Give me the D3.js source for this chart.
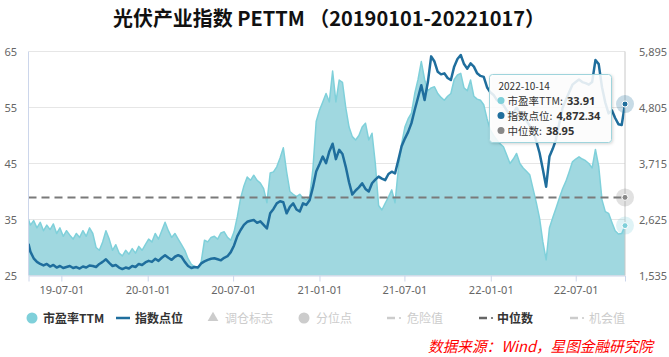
<!DOCTYPE html>
<html><head><meta charset="utf-8">
<script src="https://cdn.jsdelivr.net/npm/d3@7"></script>
<style>
body{margin:0;background:#fff;}
svg{display:block;font-family:"Noto Sans CJK SC","Noto Sans",sans-serif;}
</style>
</head><body>
<svg id="c" width="669" height="357"></svg>
<script>
const titleText = "光伏产业指数 PETTM （20190101-20221017）";
const sourceText = "数据来源：Wind，星图金融研究院";

const dates = [
"2019-04-22","2019-04-26","2019-05-03","2019-05-10","2019-05-17","2019-05-24","2019-05-31","2019-06-07","2019-06-14","2019-06-21","2019-06-28",
"2019-07-05","2019-07-12","2019-07-19","2019-07-26","2019-08-02","2019-08-09","2019-08-16","2019-08-23","2019-08-30",
"2019-09-06","2019-09-13","2019-09-20","2019-09-27","2019-10-04","2019-10-11","2019-10-18","2019-10-25",
"2019-11-01","2019-11-08","2019-11-15","2019-11-22","2019-11-29","2019-12-06","2019-12-13","2019-12-20","2019-12-27",
"2020-01-03","2020-01-10","2020-01-17","2020-01-24","2020-01-31","2020-02-07","2020-02-14","2020-02-21","2020-02-28",
"2020-03-06","2020-03-13","2020-03-20","2020-03-27","2020-04-03","2020-04-10","2020-04-17","2020-04-24",
"2020-05-01","2020-05-08","2020-05-15","2020-05-22","2020-05-29","2020-06-05","2020-06-12","2020-06-19","2020-06-26",
"2020-07-03","2020-07-10","2020-07-17","2020-07-24","2020-07-31","2020-08-07","2020-08-14","2020-08-21","2020-08-28",
"2020-09-04","2020-09-11","2020-09-18","2020-09-25","2020-10-02","2020-10-09","2020-10-16","2020-10-23","2020-10-30",
"2020-11-06","2020-11-13","2020-11-20","2020-11-27","2020-12-04","2020-12-11","2020-12-18","2020-12-25",
"2021-01-01","2021-01-08","2021-01-15","2021-01-22","2021-01-29","2021-02-05","2021-02-12","2021-02-19","2021-02-26",
"2021-03-05","2021-03-12","2021-03-19","2021-03-26","2021-04-02","2021-04-09","2021-04-16","2021-04-23","2021-04-30",
"2021-05-07","2021-05-14","2021-05-21","2021-05-28","2021-06-04","2021-06-11","2021-06-18","2021-06-25",
"2021-07-02","2021-07-09","2021-07-16","2021-07-23","2021-07-30","2021-08-06","2021-08-13","2021-08-20","2021-08-27",
"2021-09-03","2021-09-10","2021-09-17","2021-09-24","2021-10-01","2021-10-08","2021-10-15","2021-10-22","2021-10-29",
"2021-11-05","2021-11-12","2021-11-19","2021-11-26","2021-12-03","2021-12-10","2021-12-17","2021-12-24","2021-12-31",
"2022-01-07","2022-01-14","2022-01-21","2022-01-28","2022-02-04","2022-02-11","2022-02-18","2022-02-25",
"2022-03-04","2022-03-11","2022-03-18","2022-03-25","2022-04-01","2022-04-08","2022-04-15","2022-04-22","2022-04-29",
"2022-05-06","2022-05-13","2022-05-20","2022-05-27","2022-06-03","2022-06-10","2022-06-17","2022-06-24",
"2022-07-01","2022-07-08","2022-07-15","2022-07-22","2022-07-29","2022-08-05","2022-08-12","2022-08-19","2022-08-26",
"2022-09-02","2022-09-09","2022-09-16","2022-09-23","2022-09-30","2022-10-07","2022-10-14"
];

const peValues = [
35.0,
34.0,34.8,33.5,34.5,33.0,34.0,33.2,34.2,32.5,33.5,
32.0,33.0,32.2,31.5,32.5,31.8,33.0,32.0,33.5,32.5,
30.0,29.5,31.0,33.0,31.5,29.5,30.5,29.0,28.5,29.5,
28.8,29.8,29.0,30.2,29.5,30.5,31.5,31.0,32.5,31.5,
33.0,34.5,33.0,31.8,32.5,31.5,30.5,29.5,28.0,27.0,
26.6,26.2,27.5,31.3,31.0,31.8,32.0,31.5,32.6,32.8,
31.8,31.3,32.8,35.5,38.8,41.0,42.6,42.0,42.9,42.0,
41.5,40.5,38.0,43.3,43.5,44.4,46.0,47.8,43.5,40.0,
39.5,39.1,39.5,38.8,38.5,39.0,44.0,52.5,54.5,56.0,
57.5,56.0,61.5,56.0,59.9,59.5,55.0,51.5,49.8,49.2,
50.0,51.5,52.2,49.2,50.4,45.0,37.5,36.7,37.9,39.0,
40.3,38.0,44.0,48.5,51.5,53.0,54.0,57.5,60.0,63.2,
60.0,58.0,58.5,58.7,57.5,56.8,56.3,57.0,57.5,60.0,
60.8,61.1,58.5,58.0,59.9,57.0,56.5,56.3,55.5,53.0,
51.0,50.0,49.2,48.5,48.0,46.5,45.0,45.8,46.8,45.0,
44.2,43.6,43.0,40.5,38.0,35.2,31.0,27.8,33.5,35.3,
37.0,38.8,40.5,41.8,43.5,45.3,45.8,46.2,45.8,45.5,
45.0,44.2,47.5,44.5,38.5,36.4,36.1,34.5,33.0,32.4,
32.5,33.91
];

const indexValues = [
2150,
2000,1870,1800,1760,1730,1760,1710,1740,1690,1720,
1680,1700,1720,1680,1700,1670,1710,1690,1730,1720,
1700,1760,1800,1850,1780,1720,1740,1690,1660,1690,
1670,1720,1700,1760,1740,1790,1820,1800,1860,1820,
1880,1930,1880,1840,1900,1930,1900,1800,1720,1680,
1700,1690,1770,1810,1840,1860,1870,1850,1830,1880,
1910,1990,2120,2300,2420,2520,2580,2600,2615,2560,
2590,2520,2450,2745,2830,2940,2980,2960,2745,2870,
2940,2820,2780,2940,2910,3000,3250,3560,3700,3850,
3720,3950,4100,3800,3980,3900,3650,3350,3110,3190,
3250,3330,3220,3170,3330,3400,3460,3420,3390,3510,
3555,3520,3780,4050,4200,4330,4500,4760,5000,5240,
4950,5300,5800,5700,5500,5450,5470,5380,5340,5600,
5750,5826,5650,5560,5664,5600,5470,5420,5400,5200,
5100,5050,4950,4900,4850,4750,4650,4700,4800,4700,
4600,4550,4450,4350,4150,3920,3600,3263,3850,4000,
4180,4500,4800,4950,5100,5250,5300,5350,5300,5280,
5250,5300,5728,5650,5200,4900,4691,4750,4600,4480,
4464,4872.34
];

const medianValue = 38.95;
const peTicks = [25,35,45,55,65];
const indexTicks = [1535,2625,3715,4805,5895];
const xTickDates = ["2019-07-01","2020-01-01","2020-07-01","2021-01-01","2021-07-01","2022-01-01","2022-07-01"];
const xTickLabels = ["19-07-01","20-01-01","20-07-01","21-01-01","21-07-01","22-01-01","22-07-01"];
const legendItems = [
  {name:"市盈率TTM", type:"circle", active:true},
  {name:"指数点位", type:"line", active:true},
  {name:"调仓标志", type:"triangle", active:false},
  {name:"分位点", type:"circle", active:false},
  {name:"危险值", type:"dash", active:false},
  {name:"中位数", type:"dash", active:true},
  {name:"机会值", type:"dash", active:false}
];
const tooltipDate = "2022-10-14";

const C = {pe:"#7fd0da", peFill:"#a0d8e0", idx:"#1f6e9d", med:"#7a7a7a", grid:"#e6e6e6", axis:"#ccd6eb", label:"#666"};

const parse = d3.timeParse("%Y-%m-%d");
const data = dates.map((d,i)=>({date:parse(d), pe:peValues[i], idx:indexValues[i]}));

const L = 28.5, R = 625, T = 51.5, B = 275.5;
const x = d3.scaleTime().domain([data[0].date, data[data.length-1].date]).range([L,R]);
const yPE = d3.scaleLinear().domain([25,65]).range([B,T]);
const yIdx = d3.scaleLinear().domain([1535,5895]).range([B,T]);

const svg = d3.select("#c");

// title
svg.append("text").attr("x",329).attr("y",26).attr("text-anchor","middle")
  .attr("font-size",20).attr("font-weight","bold").attr("fill","#111")
  .attr("textLength",432).attr("lengthAdjust","spacingAndGlyphs").text(titleText);

// grid
svg.append("g").selectAll("line").data(peTicks).join("line")
  .attr("x1",L).attr("x2",R).attr("y1",d=>yPE(d)).attr("y2",d=>yPE(d))
  .attr("stroke",C.grid).attr("stroke-width",1);

// left axis labels
svg.append("g").selectAll("text").data(peTicks).join("text")
  .attr("x",17).attr("y",d=>yPE(d)+4).attr("text-anchor","end")
  .attr("font-size",11).attr("fill",C.label).attr("font-family","Noto Sans").text(d=>d);
// right axis labels
svg.append("g").selectAll("text").data(indexTicks).join("text")
  .attr("x",639).attr("y",d=>yIdx(d)+4).attr("text-anchor","start")
  .attr("font-size",11).attr("fill",C.label).attr("font-family","Noto Sans").text(d=>d3.format(",")(d));

// area & lines
svg.append("clipPath").attr("id","clp").append("rect").attr("x",L).attr("y",T-2).attr("width",R-L).attr("height",B-T+2);
const plot = svg.append("g").attr("clip-path","url(#clp)");
plot.append("path").datum(data).attr("fill",C.peFill)
  .attr("d",d3.area().x(d=>x(d.date)).y0(B).y1(d=>yPE(d.pe)));
plot.append("path").datum(data).attr("fill","none").attr("stroke",C.pe).attr("stroke-width",1.5)
  .attr("stroke-linejoin","round")
  .attr("d",d3.line().x(d=>x(d.date)).y(d=>yPE(d.pe)));
plot.append("path").datum(data).attr("fill","none").attr("stroke",C.idx).attr("stroke-width",2.5)
  .attr("stroke-linejoin","round")
  .attr("d",d3.line().x(d=>x(d.date)).y(d=>yIdx(d.idx)));

// median line
svg.append("line").attr("x1",L).attr("x2",R).attr("y1",yPE(medianValue)).attr("y2",yPE(medianValue))
  .attr("stroke",C.med).attr("stroke-width",2).attr("stroke-dasharray","8,5");

// axes lines
svg.append("line").attr("x1",L).attr("x2",L).attr("y1",T).attr("y2",B).attr("stroke",C.axis);
const xAxis = d3.axisBottom(x).tickValues(xTickDates.map(parse)).tickSize(6)
  .tickFormat((d,i)=>xTickLabels[i]);
const gx = svg.append("g").attr("transform",`translate(0,${B})`).call(xAxis);
gx.select(".domain").attr("stroke",C.axis);
gx.selectAll(".tick line").attr("stroke",C.axis);
gx.selectAll(".tick text").attr("fill",C.label).attr("font-size",11).attr("font-family","Noto Sans").attr("dy","0.9em");

// hover crosshair
const last = data[data.length-1];
svg.append("line").attr("x1",x(last.date)).attr("x2",x(last.date)).attr("y1",T).attr("y2",B)
  .attr("stroke","#c8c8c8").attr("stroke-width",1);

// end markers
function marker(cx,cy,col){
  svg.append("circle").attr("cx",cx).attr("cy",cy).attr("r",9).attr("fill",col).attr("opacity",0.25);
  svg.append("circle").attr("cx",cx).attr("cy",cy).attr("r",3).attr("fill",col).attr("stroke","#fff").attr("stroke-width",1);
}
marker(x(last.date), yPE(last.pe), C.pe);
marker(x(last.date), yIdx(last.idx), C.idx);
marker(x(last.date), yPE(medianValue), "#888");

// tooltip
const defs = svg.append("defs");
const f = defs.append("filter").attr("id","sh").attr("x","-20%").attr("y","-20%").attr("width","140%").attr("height","150%");
f.append("feDropShadow").attr("dx",1).attr("dy",1).attr("stdDeviation",1.5).attr("flood-color","#000").attr("flood-opacity",0.18);
const tt = svg.append("g").attr("transform","translate(489.5,74.5)");
tt.append("rect").attr("width",122).attr("height",68).attr("rx",3)
  .attr("fill","#fff").attr("fill-opacity",0.85).attr("stroke","#9fd4dc").attr("stroke-width",1).attr("filter","url(#sh)");
tt.append("text").attr("x",9).attr("y",15).attr("font-size",10).attr("fill","#333").text(tooltipDate);
const rows = [
  {c:C.pe, n:"市盈率TTM:", v:d3.format(".2f")(last.pe)},
  {c:C.idx, n:"指数点位:", v:d3.format(",.2f")(last.idx)},
  {c:"#888", n:"中位数:", v:d3.format(".2f")(medianValue)}
];
rows.forEach((r,i)=>{
  const yy = 30 + i*15;
  tt.append("circle").attr("cx",11.5).attr("cy",yy-4).attr("r",3.5).attr("fill",r.c);
  const t = tt.append("text").attr("x",18).attr("y",yy).attr("font-size",10.5).attr("fill","#333").text(r.n);
  const w = t.node().getComputedTextLength();
  tt.append("text").attr("x",18+w+4).attr("y",yy).attr("font-size",11).attr("font-weight","bold")
    .attr("fill","#333").attr("font-family","Noto Sans").text(r.v);
});

// legend
const legX = [32,116,213,304,387,479,570];
const legTextX = [43,135,225,316,407,497,589];
const legY = 318;
legendItems.forEach((it,i)=>{
  const g = svg.append("g");
  const col = it.active ? (i===0?C.pe:(i===1?C.idx:"#666")) : "#cccccc";
  if(it.type==="circle") g.append("circle").attr("cx",legX[i]).attr("cy",legY).attr("r",5.5).attr("fill",col);
  if(it.type==="line") g.append("line").attr("x1",legX[i]).attr("x2",legX[i]+14).attr("y1",legY).attr("y2",legY).attr("stroke",col).attr("stroke-width",2.5);
  if(it.type==="triangle") g.append("path").attr("d",d3.symbol(d3.symbolTriangle,50)()).attr("transform",`translate(${legX[i]},${legY})`).attr("fill",col);
  if(it.type==="dash"){
    g.append("line").attr("x1",legX[i]).attr("x2",legX[i]+8).attr("y1",legY).attr("y2",legY).attr("stroke",col).attr("stroke-width",2.5);
    g.append("circle").attr("cx",legX[i]+13).attr("cy",legY).attr("r",1.1).attr("fill",col);
  }
  g.append("text").attr("x",legTextX[i]).attr("y",legY+4.5).attr("font-size",12)
    .attr("font-weight",it.active?"bold":"normal").attr("fill",it.active?"#333":"#cccccc").text(it.name);
});

// source
svg.append("text").attr("x",428).attr("y",352).attr("font-size",15).attr("font-style","italic")
  .attr("fill","#ff0000").attr("textLength",225).attr("lengthAdjust","spacingAndGlyphs").text(sourceText);
</script>
</body></html>
